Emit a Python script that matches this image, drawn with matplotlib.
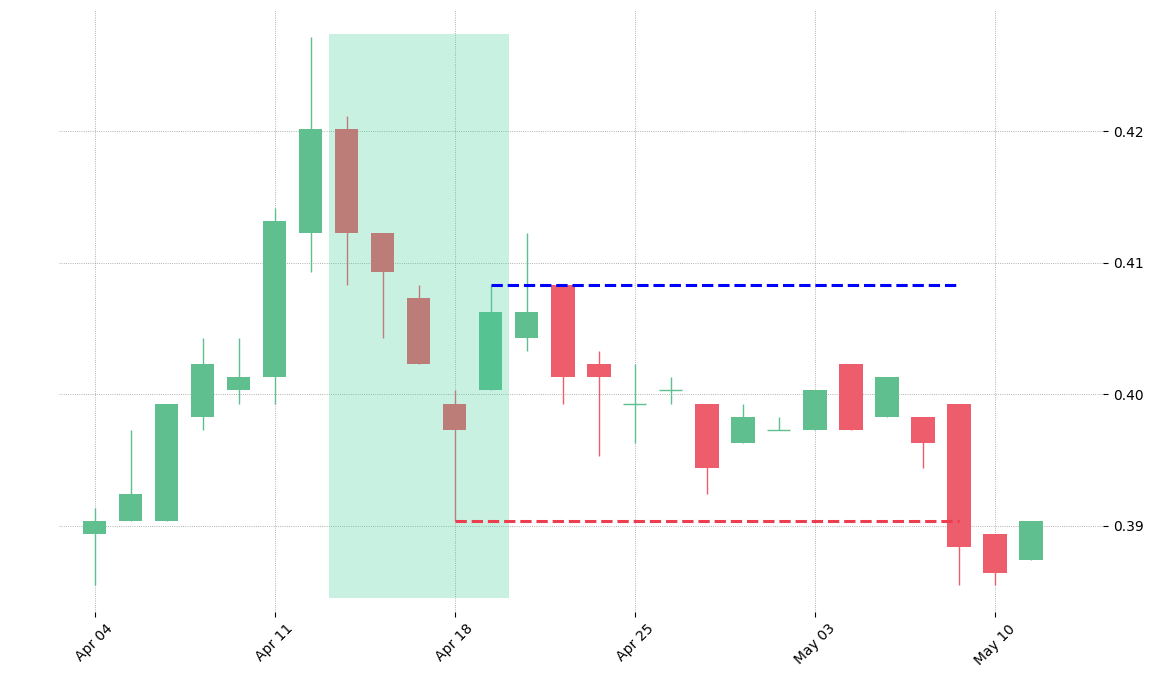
import matplotlib
matplotlib.use("Agg")
import matplotlib.pyplot as plt
import numpy as np

labels = ["Apr 04","Apr 11","Apr 18","Apr 25","May 03","May 10"]
opens  = [0.3894,0.3904,0.3904,0.3983,0.4003,0.4013,0.4123,0.4202,0.4123,0.4073,0.3993,0.4003,0.4043,0.4083,0.4023,0.3993,0.4003,0.3993,0.3963,0.3973,0.3973,0.4023,0.3983,0.3983,0.3993,0.3894,0.3874]
closes = [0.3904,0.3924,0.3993,0.4023,0.4013,0.4132,0.4202,0.4123,0.4093,0.4023,0.3973,0.4063,0.4063,0.4013,0.4013,0.3993,0.4003,0.3944,0.3983,0.3973,0.4003,0.3973,0.4013,0.3963,0.3884,0.3864,0.3904]
highs  = [0.3914,0.3973,0.3993,0.4043,0.4043,0.4142,0.4272,0.4212,0.4123,0.4083,0.4003,0.4083,0.4123,0.4083,0.4033,0.4023,0.4013,0.3993,0.3993,0.3983,0.4003,0.4023,0.4013,0.3983,0.3993,0.3894,0.3904]
lows   = [0.3855,0.3904,0.3904,0.3973,0.3993,0.3993,0.4093,0.4083,0.4043,0.4023,0.3904,0.4003,0.4033,0.3993,0.3953,0.3963,0.3993,0.3924,0.3963,0.3973,0.3973,0.3973,0.3983,0.3944,0.3855,0.3855,0.3874]
green = "#5fbf8f"; red = "#ee5d6c"

fig = plt.figure(figsize=(11.71, 6.79), dpi=100)
ax = fig.add_axes([0.05, 0.0987, 0.892, 0.886])
x = np.arange(len(opens))
for i in x:
    up = closes[i] >= opens[i]
    c = green if up else red
    ax.vlines(i, lows[i], highs[i], color=c, lw=1, zorder=2)
    lo, hi = min(opens[i], closes[i]), max(opens[i], closes[i])
    h = hi - lo
    if h < 1e-5:
        ax.hlines(lo, i-0.32, i+0.32, color=c, lw=1, zorder=2)
    else:
        ax.bar(i, h, bottom=lo, width=0.65, color=c, zorder=2)
ax.axvspan(6.5, 11.5, ymin=(0.3845-0.38346)/(0.4292-0.38346), ymax=(0.4274-0.38346)/(0.4292-0.38346), color="#3dcf9a", alpha=0.28, lw=0, zorder=3)
ax.hlines(0.4083, 11, 24, color="blue", ls="--", lw=2.2, zorder=4)
ax.hlines(0.3904, 10, 24, color="#ee3d50", ls="--", lw=2.2, zorder=4)
ax.set_xlim(-1, 28)
ax.set_ylim(0.38346, 0.4292)
ax.set_xticks([0,5,10,15,20,25])
ax.set_xticklabels(labels, rotation=45)
ax.set_yticks([0.39,0.40,0.41,0.42])
ax.set_yticklabels(["0.39","0.40","0.41","0.42"])
ax.yaxis.tick_right()
for s in ax.spines.values():
    s.set_visible(False)
ax.grid(True, color="#999999", ls=":", lw=0.6)
ax.set_axisbelow(True)
fig.savefig("out.png", dpi=100)
